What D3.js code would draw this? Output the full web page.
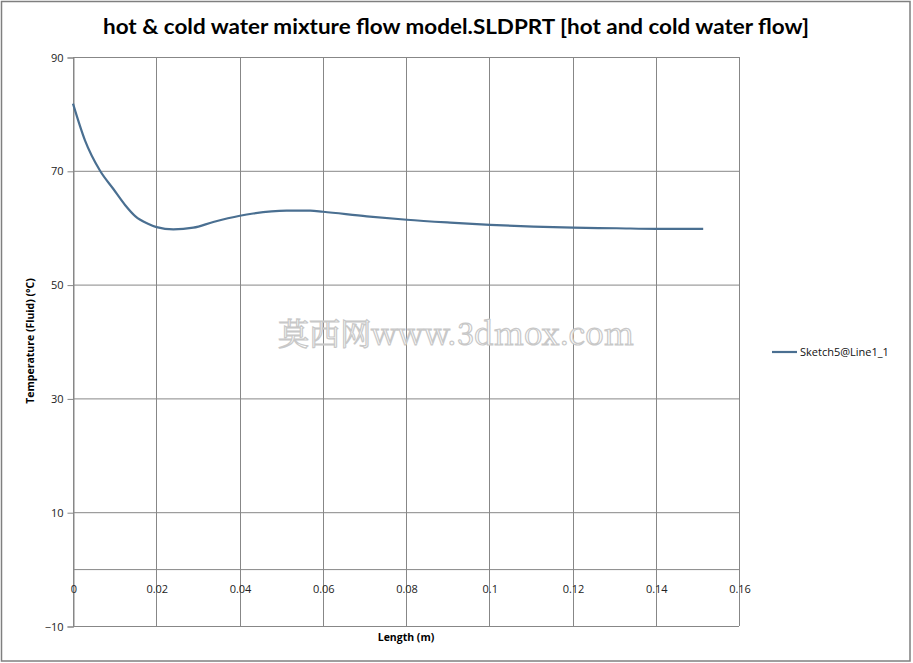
<!DOCTYPE html>
<html><head><meta charset="utf-8">
<script src="https://cdn.jsdelivr.net/npm/d3@7/dist/d3.min.js"></script>
<style>body{margin:0;background:#fff}svg{display:block}</style>
</head><body><div id="chart"></div>
<script>
const lengthM = [0, 0.0029, 0.0065, 0.0097, 0.0125, 0.0150, 0.0180, 0.0201, 0.0241, 0.0289, 0.0337, 0.0401, 0.0433, 0.0513, 0.0570, 0.0601, 0.0706, 0.0802, 0.0906, 0.1002, 0.1106, 0.1202, 0.1306, 0.1402, 0.1514];
const tempC  = [81.8, 75.3, 70.0, 66.8, 64.0, 62.0, 60.7, 60.1, 59.7, 60.0, 61.0, 62.1, 62.5, 63.0, 63.0, 62.8, 62.0, 61.4, 60.9, 60.5, 60.2, 60.0, 59.9, 59.8, 59.8];
const xTicks = [0, 0.02, 0.04, 0.06, 0.08, 0.1, 0.12, 0.14, 0.16];
const yTicks = [-10, 10, 30, 50, 70, 90];
const seriesName = "Sketch5@Line1_1";
const title = "hot & cold water mixture flow model.SLDPRT [hot and cold water flow]";

const W = 913, H = 663;
const svg = d3.select("#chart").append("svg").attr("width", W).attr("height", H);
const x = d3.scaleLinear().domain([0, 0.16]).range([73, 739]);
const y = d3.scaleLinear().domain([-10, 90]).range([626, 57]);

svg.append("rect").attr("x", 1.5).attr("y", 1.5).attr("width", 908.5).attr("height", 659.5)
  .attr("fill", "#fff").attr("stroke", "#7f7f7f").attr("stroke-width", 1.5);

const grid = "#878787";
svg.append("g").selectAll("line").data(yTicks).join("line")
  .attr("x1", x(0)).attr("x2", x(0.16)).attr("y1", d => y(d) + 0.5).attr("y2", d => y(d) + 0.5)
  .attr("stroke", grid).attr("stroke-width", 1);
svg.append("g").selectAll("line").data(xTicks).join("line")
  .attr("x1", d => Math.round(x(d)) + 0.5).attr("x2", d => Math.round(x(d)) + 0.5)
  .attr("y1", y(90)).attr("y2", y(-10))
  .attr("stroke", grid).attr("stroke-width", 1);
svg.append("line").attr("x1", x(0)).attr("x2", x(0.16)).attr("y1", y(0) + 0.5).attr("y2", y(0) + 0.5)
  .attr("stroke", grid);

const yAxis = d3.axisLeft(y).tickValues(yTicks).tickSize(6).tickPadding(4).tickFormat(d3.format("d"));
const gy = svg.append("g").attr("transform", `translate(${x(0) + 0.5},0.5)`).call(yAxis);
gy.select(".domain").attr("stroke", grid);
gy.selectAll(".tick line").attr("stroke", grid);
gy.selectAll("text").attr("font-family", "Open Sans, sans-serif").attr("font-size", 11).attr("fill", "#222");

const xAxis = d3.axisBottom(x).tickValues(xTicks).tickSize(0).tickPadding(16).tickFormat(d => d === 0 ? "0" : String(+d.toFixed(2)));
const gx = svg.append("g").attr("transform", `translate(0.5,${y(0)})`).call(xAxis);
gx.select(".domain").remove();
gx.selectAll("text").attr("font-family", "Open Sans, sans-serif").attr("font-size", 11).attr("fill", "#222");

const wm = svg.append("g").attr("font-family", "Noto Serif CJK SC, Liberation Serif, serif").attr("font-size", 31);
wm.append("text").attr("x", 278).attr("y", 345).attr("fill", "#fff").attr("stroke", "#c8c8c8").attr("stroke-width", 1.2)
  .attr("textLength", 356).attr("lengthAdjust", "spacingAndGlyphs").text("莫西网www.3dmox.com");

const line = d3.line().x((d, i) => x(lengthM[i])).y(d => y(d)).curve(d3.curveMonotoneX);
svg.append("path").datum(tempC).attr("d", line).attr("fill", "none")
  .attr("stroke", "#4a6f91").attr("stroke-width", 2.2);

svg.append("text").attr("x", 456).attr("y", 34).attr("text-anchor", "middle")
  .attr("font-family", "Lato, sans-serif").attr("font-weight", "bold").attr("font-size", 21)
  .attr("textLength", 706).attr("lengthAdjust", "spacingAndGlyphs").attr("fill", "#000").text(title);

svg.append("text").attr("x", 406).attr("y", 641).attr("text-anchor", "middle")
  .attr("font-family", "Open Sans, sans-serif").attr("font-weight", "bold").attr("font-size", 10.5)
  .text("Length (m)");
svg.append("text").attr("transform", "translate(34,341) rotate(-90)").attr("text-anchor", "middle")
  .attr("font-family", "Open Sans, sans-serif").attr("font-weight", "bold").attr("font-size", 10.5)
  .text("Temperature (Fluid) (°C)");

svg.append("line").attr("x1", 772).attr("x2", 797).attr("y1", 352).attr("y2", 352)
  .attr("stroke", "#4a6f91").attr("stroke-width", 2.2);
svg.append("text").attr("x", 800).attr("y", 356).attr("font-family", "Open Sans, sans-serif")
  .attr("font-size", 11).attr("fill", "#111").text(seriesName);
</script></body></html>
